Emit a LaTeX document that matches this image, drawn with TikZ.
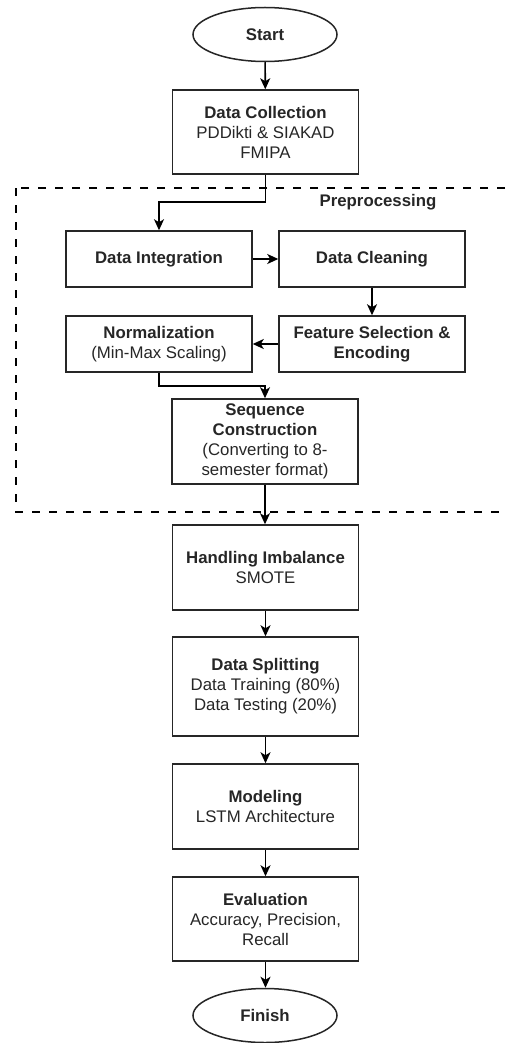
\documentclass[tikz,border=0pt]{standalone}
\usepackage{fontspec}
\setmainfont{Liberation Sans}
\usetikzlibrary{arrows.meta,shapes.geometric}
\begin{document}
\begin{tikzpicture}[x=1pt,y=-1pt,
  txt/.style={font=\fontsize{16.8}{20}\selectfont, align=center, text=black!85},
  box/.style={txt, draw=black!85, line width=1.5pt, rectangle, inner sep=0pt, minimum width=186pt},
  term/.style={txt, draw=black!85, line width=1.5pt, ellipse, inner sep=0pt, minimum width=144pt, minimum height=54pt, font=\fontsize{16.8}{20}\selectfont\bfseries},
  arr/.style={draw=black, line width=1.6pt, -{Stealth[length=11pt,width=10pt,inset=3pt]}},
  grp/.style={draw=black, line width=2.8pt, dash pattern=on 8pt off 9pt}
]
\useasboundingbox (0,0) rectangle (508,1043);
\clip (0,0) rectangle (508,1043);
% group
\draw[grp] (16,188) rectangle (540,512);
\node[txt, font=\fontsize{16.8}{20}\selectfont\bfseries] (pre) at (378,202) {Preprocessing};

\node[term] (start) at (265,34.5) {Start};
\node[box, minimum height=84pt] (coll) at (265.5,132) {\textbf{Data Collection}\\PDDikti \& SIAKAD\\FMIPA};
\node[box, minimum height=56pt] (integ) at (159,259) {\textbf{Data Integration}};
\node[box, minimum height=56pt] (clean) at (372,259) {\textbf{Data Cleaning}};
\node[box, minimum height=56pt] (norm) at (159,344) {\textbf{Normalization}\\(Min-Max Scaling)};
\node[box, minimum height=56pt] (feat) at (372,344) {\textbf{Feature Selection \&}\\\textbf{Encoding}};
\node[box, minimum height=85pt] (seq) at (265,441.5) {\textbf{Sequence}\\\textbf{Construction}\\(Converting to 8-\\semester format)};
\node[box, minimum height=85pt] (hand) at (265.5,567.5) {\textbf{Handling Imbalance}\\SMOTE};
\node[box, minimum height=99pt] (split) at (265.5,686.5) {\textbf{Data Splitting}\\Data Training (80\%)\\Data Testing (20\%)};
\node[box, minimum height=85pt] (model) at (265.5,806.5) {\textbf{Modeling}\\LSTM Architecture};
\node[box, minimum height=84pt] (eval) at (265.5,919) {\textbf{Evaluation}\\Accuracy, Precision,\\Recall};
\node[term] (finish) at (265,1015.5) {Finish};

\coordinate (j1) at (265.5,202);
\coordinate (j2) at (159,386);

\draw[arr] (start) -- (coll);
\draw[arr] (coll.south) -- (j1) -| (integ.north);
\draw[arr] (integ) -- (clean);
\draw[arr] (clean) -- (feat);
\draw[arr] (feat) -- (norm);
\draw[arr] (norm.south) -- (j2) -| (seq.north);
\draw[arr] (seq.south) -- (seq.south |- hand.north);
\draw[arr] (hand) -- (split);
\draw[arr] (split) -- (model);
\draw[arr] (model) -- (eval);
\draw[arr] (eval.south) -- (eval.south |- finish.north);
\end{tikzpicture}
\end{document}
